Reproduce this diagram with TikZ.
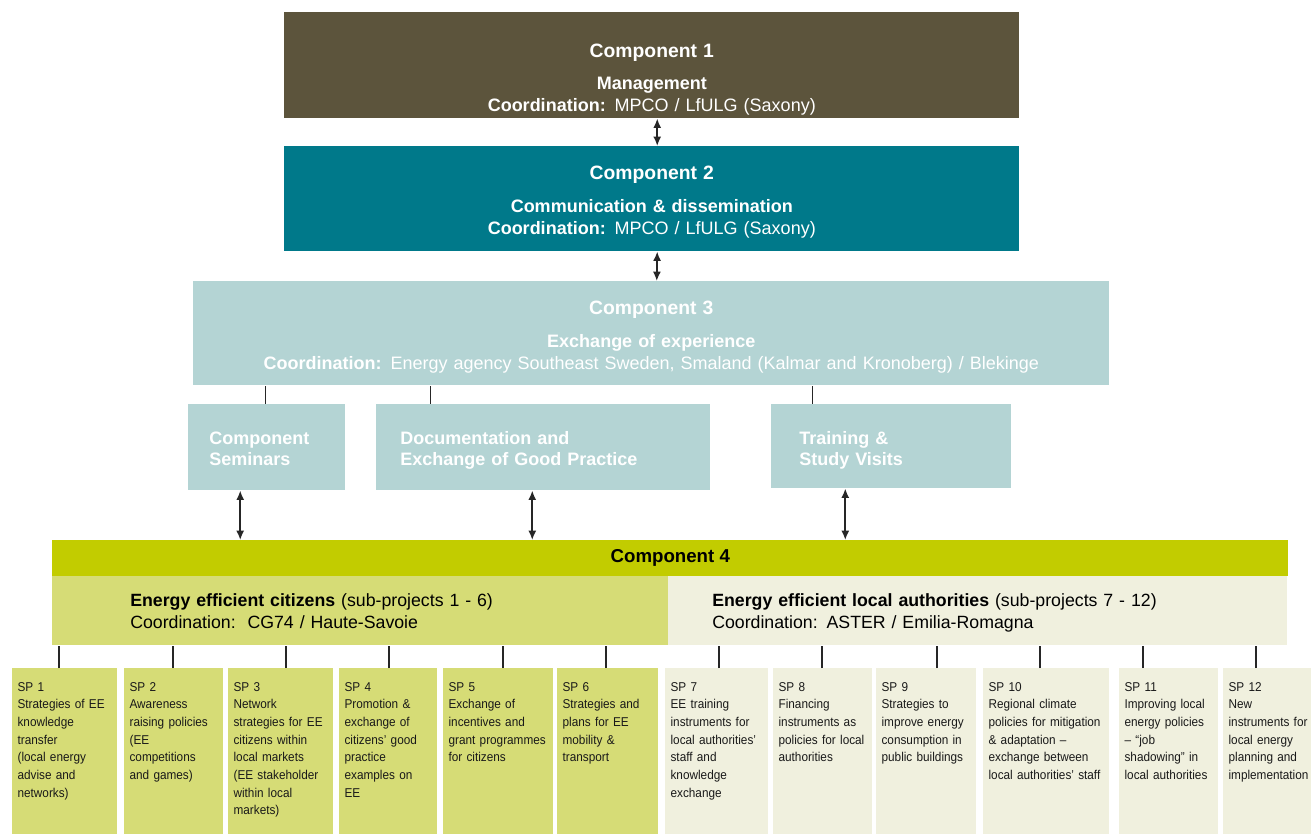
\documentclass[tikz,border=0pt]{standalone}
\usepackage{fontspec}
\setmainfont{Liberation Sans}
\newfontfamily\spfont[FakeStretch=0.92]{Liberation Sans}
\usetikzlibrary{positioning,arrows.meta}
\usepackage{xcolor}

\definecolor{mgmtbrown}{RGB}{92,84,60}
\definecolor{commteal}{RGB}{0,121,138}
\definecolor{exchblue}{RGB}{180,212,212}
\definecolor{compgreen}{RGB}{194,204,0}
\definecolor{citlight}{RGB}{214,220,118}
\definecolor{authcream}{RGB}{240,240,222}

\newcommand{\comptitle}[1]{{\fontsize{14.5}{16.5}\selectfont\bfseries #1}}

\begin{document}
\begin{tikzpicture}[x=0.75pt,y=-0.75pt,>={Latex[length=7pt,width=6pt]},
  compbox/.style={anchor=north west,inner sep=0pt,align=center,text=white,
    font=\fontsize{13.5}{16.5}\selectfont},
  subbox/.style={anchor=north west,inner ysep=0pt,align=left,text=white,fill=exchblue,
    text height=30pt,font=\bfseries\fontsize{13.5}{15.75}\selectfont},
  grpbox/.style={anchor=north west,inner ysep=0pt,align=left,text=black,
    text height=22.5pt,text depth=29.25pt,font=\fontsize{13.3}{16.5}\selectfont},
  spbox/.style={anchor=north west,inner xsep=4pt,inner ysep=0pt,align=left,text=black!90,
    text height=17.25pt,text depth=110.25pt,font=\spfont\fontsize{9.6}{13.25}\selectfont},
  link/.style={line width=1.1pt,black!85},
  dbl/.style={link,line width=1.3pt,<->}]

\path[use as bounding box,fill=white] (0,0) rectangle (1311,834);

% draw management and communication components
\node[compbox,fill=mgmtbrown,text width=551.25pt,text height=33.75pt,text depth=45.75pt] (comp1) at (284,12)
  {\comptitle{Component 1}\\[7.5pt]\textbf{Management}\\\textbf{Coordination:} MPCO / LfULG (Saxony)};
\node[compbox,fill=commteal,text width=551.25pt,text height=24.75pt,text depth=54pt] (comp2) at (284,146)
  {\comptitle{Component 2}\\[8.25pt]\textbf{Communication \& dissemination}\\\textbf{Coordination:} MPCO / LfULG (Saxony)};

% draw exchange component and its parts
\node[compbox,fill=exchblue,text width=687pt,text height=24.75pt,text depth=53.25pt] (comp3) at (193,281)
  {\comptitle{Component 3}\\[8.25pt]\textbf{Exchange of experience}\\\textbf{Coordination:} Energy agency Southeast Sweden, Smaland (Kalmar and Kronoberg) / Blekinge};

\node[subbox,inner xsep=15.75pt,text width=86.25pt,text depth=34.5pt] (sem) at (188,404) {Component\\Seminars};
\node[subbox,inner xsep=18pt,text width=214.5pt,text depth=34.5pt] (doc) at (376,404) {Documentation and\\Exchange of Good Practice};
\node[subbox,inner xsep=21pt,text width=138pt,text depth=33pt] (train) at (771,404) {Training \&\\Study Visits};

% draw component 4 with its two groups
\node[anchor=north west,fill=compgreen,minimum width=927pt,minimum height=27pt,inner sep=0pt,
  font=\bfseries\fontsize{14}{16}\selectfont] (comp4) at (52,540) {Component 4};
\node[grpbox,fill=citlight,inner xsep=58.5pt,text width=345pt] (cit) at (52,576)
  {\textbf{Energy efficient citizens} (sub-projects 1 - 6)\\Coordination:\ \ CG74 / Haute-Savoie};
\node[grpbox,fill=authcream,inner xsep=33pt,text width=398.25pt] (loc) at (668,576)
  {\textbf{Energy efficient local authorities} (sub-projects 7 - 12)\\Coordination: ASTER / Emilia-Romagna};

% connect the components
\draw[dbl] ([xshift=4.1pt]comp1.south) -- ([xshift=4.1pt]comp2.north);
\draw[dbl] ([xshift=4.1pt]comp2.south) -- ([xshift=4.1pt]comp3.north);

\draw[link] ([xshift=-1.1pt]sem.north) -- ([xshift=-1.1pt]sem.north |- comp3.south);
\draw[link] ([xshift=-84.75pt]doc.north) -- ([xshift=-84.75pt]doc.north |- comp3.south);
\draw[link] ([xshift=-59.25pt]train.north) -- ([xshift=-59.25pt]train.north |- comp3.south);

\draw[dbl] ([xshift=-19.9pt]sem.south) -- ([xshift=-19.9pt]sem.south |- comp4.north);
\draw[dbl] ([xshift=-8.25pt]doc.south) -- ([xshift=-8.25pt]doc.south |- comp4.north);
\draw[dbl] ([xshift=-34.5pt]train.south) -- ([xshift=-34.5pt]train.south |- comp4.north);

% draw sub-projects and connect them to their group
\foreach \n/\xl/\w/\tx/\grp/\col/\txt in {
  1/12/105/59/cit/citlight/{SP 1\\Strategies of EE\\knowledge\\transfer\\(local energy\\advise and\\networks)},
  2/124/99/173/cit/citlight/{SP 2\\Awareness\\raising policies\\(EE\\competitions\\and games)},
  3/228/105/286/cit/citlight/{SP 3\\Network\\strategies for EE\\citizens within\\local markets\\(EE stakeholder\\within local\\markets)},
  4/339/98/389/cit/citlight/{SP 4\\Promotion \&\\exchange of\\citizens’ good\\practice\\examples on\\EE},
  5/443/110/503/cit/citlight/{SP 5\\Exchange of\\incentives and\\grant programmes\\for citizens},
  6/557/101/606/cit/citlight/{SP 6\\Strategies and\\plans for EE\\mobility \&\\transport},
  7/665/103/719/loc/authcream/{SP 7\\EE training\\instruments for\\local authorities’\\staff and\\knowledge\\exchange},
  8/773/99/822/loc/authcream/{SP 8\\Financing\\instruments as\\policies for local\\authorities},
  9/876/100/937/loc/authcream/{SP 9\\Strategies to\\improve energy\\consumption in\\public buildings},
  10/983/126/1040/loc/authcream/{SP 10\\Regional climate\\policies for mitigation\\\& adaptation –\\exchange between\\local authorities’ staff},
  11/1119/99/1143/loc/authcream/{SP 11\\Improving local\\energy policies\\– “job\\shadowing” in\\local authorities},
  12/1223/107/1256/loc/authcream/{SP 12\\New\\instruments for\\local energy\\planning and\\implementation}}
{
  \node[spbox,fill=\col,text width={\w*0.75pt-8pt}] (sp\n) at (\xl,668) {\txt};
  \coordinate (tick\n) at (\tx,668);
  \draw[link] (tick\n) -- (tick\n |- \grp.south);
}

\end{tikzpicture}
\end{document}
